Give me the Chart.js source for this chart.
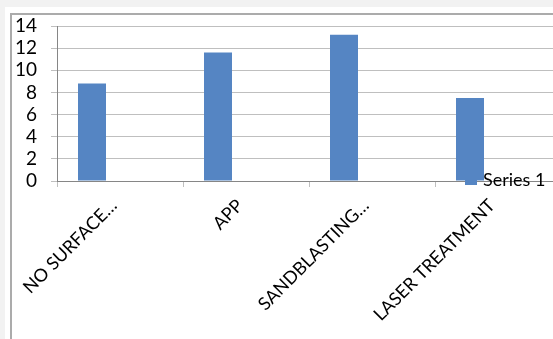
<!DOCTYPE html>
<html>
<head>
<meta charset="utf-8">
<script src="https://cdn.jsdelivr.net/npm/chart.js@4"></script>
<style>
  html, body { margin: 0; padding: 0; overflow: hidden; background: #f2f2f2; }
  canvas { display: block; }
</style>
</head>
<body>
<canvas id="myChart" width="575" height="339"></canvas>
<script>
// data
var categories = ['NO SURFACE…', 'APP', 'SANDBLASTING…', 'LASER TREATMENT'];
var series1 = [8.8, 11.6, 13.2, 7.5];
// two empty series keep the Excel-style bar slot on the left of each category
var series2 = [];
var series3 = [];
var yTicks = [0, 2, 4, 6, 8, 10, 12, 14];

var barColor = '#5585c3';

// grey page, white panel and the chart box border
var framePlugin = {
    id: 'frame',
    beforeDraw: function(chart) {
        var ctx = chart.ctx;
        ctx.save();
        ctx.fillStyle = '#f2f2f2';
        ctx.fillRect(0, 0, chart.width, chart.height);
        ctx.fillStyle = '#ffffff';
        ctx.fillRect(5, 7, chart.width, chart.height);
        ctx.strokeStyle = '#ababab';
        ctx.lineWidth = 2;
        ctx.strokeRect(11, 14, chart.width, chart.height);
        ctx.restore();
    }
};

// legend sits on top of the plot like in the picture
var legendPlugin = {
    id: 'looseLegend',
    afterDatasetsDraw: function(chart) {
        var ctx = chart.ctx;
        var ds = chart.data.datasets[0];
        ctx.save();
        ctx.fillStyle = ds.backgroundColor;
        ctx.fillRect(465, 173, 12, 12);
        ctx.fillStyle = '#000';
        ctx.font = '18px Lato';
        ctx.textBaseline = 'middle';
        ctx.fillText(ds.label, 483, 180);
        ctx.restore();
    }
};

var myChart = document.getElementById('myChart').getContext('2d');

var chart = new Chart(myChart, {
    type: 'bar',
    data: {
        labels: categories,
        datasets: [{
            label: 'Series 1',
            data: series1,
            backgroundColor: barColor
        },
        {
            label: 'Series 2',
            data: series2,
            backgroundColor: barColor
        },
        {
            label: 'Series 3',
            data: series3,
            backgroundColor: barColor
        }]
    },
    options: {
        responsive: false,
        animation: false,
        categoryPercentage: 2 / 3,
        barPercentage: 1,
        layout: { padding: { top: 26, right: 14, left: 0, bottom: 0 } },
        plugins: {
            legend: { display: false },
            tooltip: { enabled: false }
        },
        scales: {
            x: {
                grid: {
                    display: true,
                    drawOnChartArea: false,
                    drawTicks: true,
                    tickLength: 6,
                    color: '#bfbfbf'
                },
                border: { color: '#868686' },
                ticks: {
                    color: '#000',
                    font: { family: 'Lato', size: 18 },
                    minRotation: 45,
                    maxRotation: 45,
                    padding: 8,
                    labelOffset: -6,
                    autoSkip: false
                },
                afterFit: function(scale) { scale.height = 339 - 181; }
            },
            y: {
                min: 0,
                max: 14,
                afterBuildTicks: function(scale) {
                    scale.ticks = yTicks.map(function(v) { return { value: v }; });
                },
                grid: {
                    color: '#bfbfbf',
                    tickLength: 6
                },
                border: { color: '#868686' },
                ticks: {
                    color: '#000',
                    font: { family: 'Lato', size: 19 },
                    padding: 14,
                    autoSkip: false
                },
                afterFit: function(scale) { scale.width = 57; }
            }
        }
    },
    plugins: [framePlugin, legendPlugin]
});
</script>
</body>
</html>
